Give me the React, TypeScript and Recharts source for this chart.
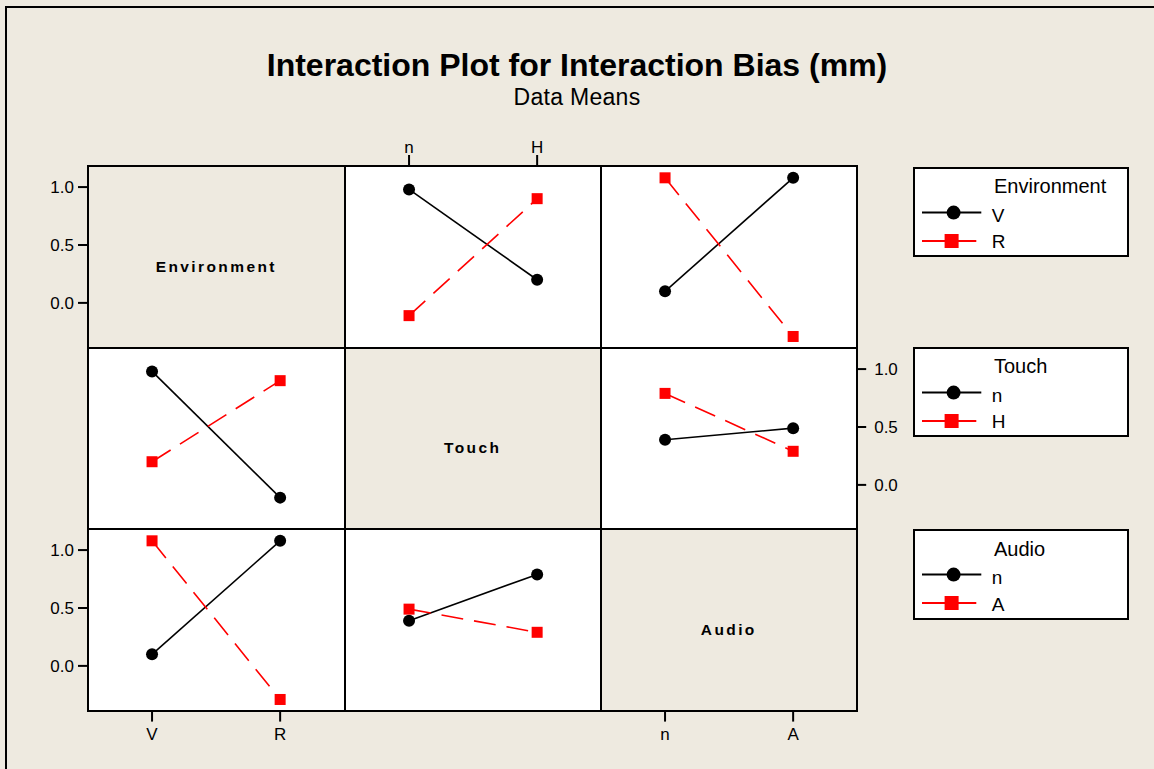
import { LineChart, Line, XAxis, YAxis } from 'recharts';

// factor levels
const envLevels = ['V', 'R'];
const touchLevels = ['n', 'H'];
const audioLevels = ['n', 'A'];

// cell means, Environment x Touch (index follows touchLevels)
const envV_byTouch = [0.98, 0.2];
const envR_byTouch = [-0.11, 0.9];
// Environment x Audio (index follows audioLevels)
const envV_byAudio = [0.1, 1.08];
const envR_byAudio = [1.08, -0.29];
// Touch x Audio (index follows audioLevels)
const touchN_byAudio = [0.39, 0.49];
const touchH_byAudio = [0.79, 0.29];

const yTicks = [0, 0.5, 1.0];
const yDomain = [-0.386, 1.182];

const BG = '#EEEAE0';
const FONT = '"Liberation Sans", Arial, sans-serif';
const COL_X = [88.2, 344.6, 600.7];
const ROW_Y = [166, 347.7, 529.4];
const W = 256.2;
const H = 181.6;
const P = 60;
const AX = 45;

type Row = { x: string; a?: number; b?: number };

const rows = (levels: string[], a?: number[], b?: number[]): Row[] =>
  levels.map((x, i) => ({ x, a: a ? a[i] : undefined, b: b ? b[i] : undefined }));

const Square = (props: any) => {
  const { cx, cy, index } = props;
  if (cx == null || cy == null) return <g key={`s-${index}`} />;
  return <rect key={`s-${index}`} x={cx - 5.5} y={cy - 5.5} width={11} height={11} fill="#ff0000" />;
};

const tickStyle = { fill: '#000', fontSize: 17, fontFamily: FONT };
const tickLine = { stroke: '#000', strokeWidth: 2 };

function Panel({
  row, col, data, top, bottom, left, right, lines = true,
}: {
  row: number; col: number; data: Row[]; top?: boolean; bottom?: boolean;
  left?: boolean; right?: boolean; lines?: boolean;
}) {
  return (
    <div style={{ position: 'absolute', left: COL_X[col] - P, top: ROW_Y[row] - P }}>
      <LineChart
        width={W + 2 * P}
        height={H + 2 * P}
        data={data}
        margin={{
          top: top ? P - AX : P,
          bottom: bottom ? P - AX : P,
          left: left ? P - AX : P,
          right: right ? P - AX : P,
        }}
      >
        <XAxis
          dataKey="x"
          scale="point"
          interval={0}
          padding={{ left: W / 4, right: W / 4 }}
          hide={!top && !bottom}
          orientation={top ? 'top' : 'bottom'}
          height={AX}
          axisLine={false}
          tickLine={tickLine}
          tickSize={11}
          tickMargin={top ? 2 : 6}
          tick={tickStyle}
        />
        <YAxis
          type="number"
          domain={yDomain}
          ticks={yTicks}
          allowDataOverflow
          hide={!left && !right}
          orientation={right ? 'right' : 'left'}
          width={AX}
          axisLine={false}
          tickLine={tickLine}
          tickSize={right ? 9 : 10}
          tickMargin={right ? 8 : 4}
          tick={tickStyle}
          tickFormatter={(v: number) => v.toFixed(1)}
        />
        {lines && (
          <Line
            dataKey="a"
            stroke="#000"
            strokeWidth={1.6}
            dot={{ r: 6, fill: '#000', stroke: '#000', strokeWidth: 0 }}
            activeDot={false}
            isAnimationActive={false}
          />
        )}
        {lines && (
          <Line
            dataKey="b"
            stroke="#ff0000"
            strokeWidth={1.6}
            strokeDasharray="22 11"
            dot={Square}
            activeDot={false}
            isAnimationActive={false}
          />
        )}
      </LineChart>
    </div>
  );
}

function LegendBox({ top, title, labels }: { top: number; title: string; labels: string[] }) {
  const txt = (t: string, l: number, tp: number, fs: number) => (
    <div style={{ position: 'absolute', left: l, top: tp, fontSize: fs, lineHeight: 1, fontFamily: FONT, whiteSpace: 'nowrap' }}>
      {t}
    </div>
  );
  return (
    <div style={{ position: 'absolute', left: 912.7, top, width: 216.3, height: 90.6 }}>
      <div style={{ position: 'absolute', inset: 0, border: '2px solid #000', background: '#fff' }} />
      <svg style={{ position: 'absolute', left: 0, top: 0 }} width={216} height={91}>
        <line x1={9} x2={68.3} y1={45.6} y2={45.6} stroke="#000" strokeWidth={2} />
        <circle cx={40.6} cy={45.6} r={7} fill="#000" />
        <line x1={9} x2={63.3} y1={74} y2={74} stroke="#ff0000" strokeWidth={2} />
        <rect x={31.6} y={67} width={14} height={14} fill="#ff0000" />
      </svg>
      {txt(title, 81.3, 9.7, 20)}
      {txt(labels[0], 79, 38.9, 19)}
      {txt(labels[1], 79, 65.5, 19)}
    </div>
  );
}

function DiagLabel({ row, col, text }: { row: number; col: number; text: string }) {
  return (
    <div
      style={{
        position: 'absolute', left: COL_X[col], top: ROW_Y[row] + 10, width: W, height: H,
        display: 'flex', alignItems: 'center', justifyContent: 'center',
        fontFamily: FONT, fontWeight: 'bold', fontSize: 15.5, letterSpacing: 2.4, color: '#000',
      }}
    >
      {text}
    </div>
  );
}

export default function App() {
  const touchN_byEnv = [envV_byTouch[0], envR_byTouch[0]];
  const touchH_byEnv = [envV_byTouch[1], envR_byTouch[1]];
  const audioN_byEnv = [envV_byAudio[0], envR_byAudio[0]];
  const audioA_byEnv = [envV_byAudio[1], envR_byAudio[1]];
  const audioN_byTouch = [touchN_byAudio[0], touchH_byAudio[0]];
  const audioA_byTouch = [touchN_byAudio[1], touchH_byAudio[1]];

  const cells: JSX.Element[] = [];
  for (let r = 0; r < 3; r++) {
    for (let c = 0; c < 3; c++) {
      cells.push(
        <div
          key={`bg-${r}-${c}`}
          style={{
            position: 'absolute', left: COL_X[c], top: ROW_Y[r], width: W, height: H,
            background: r === c ? BG : '#fff',
          }}
        />
      );
    }
  }

  const x0 = COL_X[0];
  const x3 = COL_X[2] + W;
  const y0 = ROW_Y[0];
  const y3 = ROW_Y[2] + H;
  const gridLines = [
    ...[x0, COL_X[1], COL_X[2], x3].map((x, i) => (
      <div key={`v${i}`} style={{ position: 'absolute', left: x - 1, top: y0 - 1, width: 2, height: y3 - y0 + 2, background: '#000' }} />
    )),
    ...[y0, ROW_Y[1], ROW_Y[2], y3].map((y, i) => (
      <div key={`h${i}`} style={{ position: 'absolute', left: x0 - 1, top: y - 1, width: x3 - x0 + 2, height: 2, background: '#000' }} />
    )),
  ];

  return (
    <div style={{ position: 'absolute', left: 0, top: 0, width: 1154, height: 769, background: BG, overflow: 'hidden', fontFamily: FONT }}>
      <div style={{ position: 'absolute', left: 5, top: 6, width: 1200, height: 800, borderTop: '2px solid #000', borderLeft: '2px solid #000' }} />
      <div style={{ position: 'absolute', left: 0, width: 1154, top: 49, textAlign: 'center', fontSize: 32, fontWeight: 'bold', lineHeight: 1 }}>
        Interaction Plot for Interaction Bias (mm)
      </div>
      <div style={{ position: 'absolute', left: 0, width: 1154, top: 85.5, textAlign: 'center', fontSize: 23, lineHeight: 1, letterSpacing: 0.3 }}>
        Data Means
      </div>
      {cells}
      {gridLines}
      <DiagLabel row={0} col={0} text="Environment" />
      <DiagLabel row={1} col={1} text="Touch" />
      <DiagLabel row={2} col={2} text="Audio" />

      <Panel row={0} col={0} data={rows(envLevels)} left lines={false} />
      <Panel row={0} col={1} data={rows(touchLevels, envV_byTouch, envR_byTouch)} top />
      <Panel row={0} col={2} data={rows(audioLevels, envV_byAudio, envR_byAudio)} />
      <Panel row={1} col={0} data={rows(envLevels, touchN_byEnv, touchH_byEnv)} />
      <Panel row={1} col={2} data={rows(audioLevels, touchN_byAudio, touchH_byAudio)} right />
      <Panel row={2} col={0} data={rows(envLevels, audioN_byEnv, audioA_byEnv)} left bottom />
      <Panel row={2} col={1} data={rows(touchLevels, audioN_byTouch, audioA_byTouch)} />
      <Panel row={2} col={2} data={rows(audioLevels)} bottom lines={false} />

      <LegendBox top={166.7} title="Environment" labels={envLevels} />
      <LegendBox top={346.7} title="Touch" labels={touchLevels} />
      <LegendBox top={529} title="Audio" labels={audioLevels} />
    </div>
  );
}
